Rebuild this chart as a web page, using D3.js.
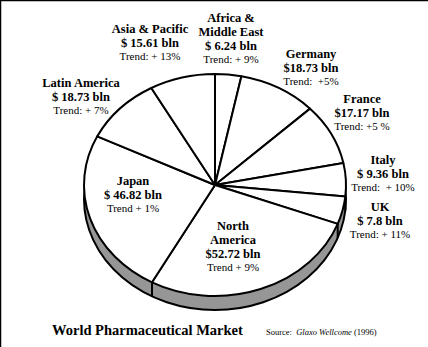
<!DOCTYPE html>
<html>
<head>
<meta charset="utf-8">
<script src="https://cdn.jsdelivr.net/npm/d3@7/dist/d3.min.js"></script>
<style>
  html, body { margin: 0; padding: 0; background: #fff; }
  svg { display: block; }
  text { font-family: "Liberation Serif", "DejaVu Serif", serif; fill: #000; }
</style>
</head>
<body>
<svg id="chart" width="428" height="347"></svg>
<script>
// regions, clockwise from 12 o'clock
const regions = ["Africa & Middle East", "Germany", "France", "Italy", "UK",
                 "North America", "Japan", "Latin America", "Asia & Pacific"];
const sales = [6.24, 18.73, 17.17, 9.36, 7.8, 52.72, 46.82, 18.73, 15.61];
const nameLines = [["Africa &", "Middle East"], ["Germany"], ["France"], ["Italy"], ["UK"],
                   ["North", "America"], ["Japan"], ["Latin America"], ["Asia & Pacific"]];
const valueLabels = ["$ 6.24 bln", "$18.73 bln", "$17.17 bln", "$ 9.36 bln", "$ 7.8 bln",
                     "$52.72 bln", "$ 46.82 bln", "$ 18.73 bln", "$ 15.61 bln"];
const trendLabels = ["Trend: + 9%", "Trend:  +5%", "Trend: +5 %", "Trend:  + 10%", "Trend: + 11%",
                     "Trend + 9%", "Trend + 1%", "Trend: + 7%", "Trend: + 13%"];

// where each label block starts (center x, first baseline)
const labelPos = [[231, 22], [311, 58], [362, 103], [383, 164], [380, 211],
                  [233, 230], [133, 185], [81, 87], [150, 33]];

const cx = 215, cy = 185, rx = 131, ry = 111, depth = 14;

const svg = d3.select("#chart");

// frame (top and left edges only)
svg.append("line").attr("x1", 0).attr("y1", 0.5).attr("x2", 428).attr("y2", 0.5)
    .attr("stroke", "#000").attr("stroke-width", 1.5);
svg.append("line").attr("x1", 0.5).attr("y1", 0).attr("x2", 0.5).attr("y2", 347)
    .attr("stroke", "#000").attr("stroke-width", 1.5);

const pie = d3.pie().sort(null).startAngle(0).endAngle(2 * Math.PI);
const arcs = pie(sales);
const arc = d3.arc().innerRadius(0).outerRadius(rx);

// side of the disc
const side = svg.append("g");
side.append("ellipse")
    .attr("cx", cx).attr("cy", cy + depth).attr("rx", rx).attr("ry", ry)
    .attr("fill", "#969696").attr("stroke", "#000").attr("stroke-width", 2);
side.append("rect")
    .attr("x", cx - rx).attr("y", cy).attr("width", 2 * rx).attr("height", depth)
    .attr("fill", "#969696");

// slice edges running down the side
const pt = a => [cx + rx * Math.sin(a), cy - ry * Math.cos(a)];
arcs.forEach(d => {
    const a = d.startAngle;
    if (a > Math.PI / 2 && a < 3 * Math.PI / 2) {
        const [x, y] = pt(a);
        side.append("line").attr("x1", x).attr("y1", y).attr("x2", x).attr("y2", y + depth)
            .attr("stroke", "#000").attr("stroke-width", 2);
    }
});

// top face
svg.append("g")
    .attr("transform", `translate(${cx},${cy}) scale(1,${ry / rx})`)
    .selectAll("path")
    .data(arcs)
    .join("path")
    .attr("d", arc)
    .attr("fill", "#fff")
    .attr("stroke", "#000")
    .attr("stroke-width", 2)
    .attr("stroke-linejoin", "round")
    .attr("vector-effect", "non-scaling-stroke");

// labels
const labels = svg.append("g").attr("text-anchor", "middle");
regions.forEach((r, i) => {
    const [x, y0] = labelPos[i];
    let y = y0;
    nameLines[i].concat([valueLabels[i]]).forEach((s, j) => {
        if (j > 0) y += 14;
        labels.append("text").attr("x", x).attr("y", y)
            .attr("font-size", 12.5).attr("font-weight", "bold").text(s);
    });
    y += 13;
    labels.append("text").attr("x", x).attr("y", y)
        .attr("font-size", 11).attr("xml:space", "preserve").text(trendLabels[i]);
});

// title and source
svg.append("text").attr("x", 52).attr("y", 335)
    .attr("font-size", 14.5).attr("font-weight", "bold")
    .text("World Pharmaceutical Market");
const src = svg.append("text").attr("x", 266).attr("y", 335).attr("font-size", 8.5)
    .attr("xml:space", "preserve");
src.append("tspan").text("Source:  ");
src.append("tspan").attr("font-style", "italic").text("Glaxo Wellcome");
src.append("tspan").text(" (1996)");
</script>
</body>
</html>
